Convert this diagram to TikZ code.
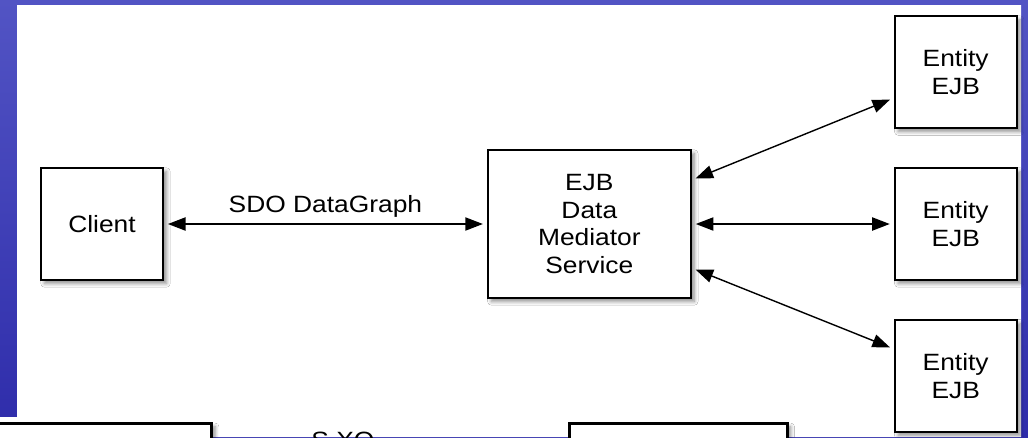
\documentclass[tikz,border=0pt]{standalone}
\usepackage{fontspec}
\setmainfont{Liberation Sans}[FakeStretch=1.12]
\usetikzlibrary{positioning, arrows.meta, shadows.blur}

\definecolor{slidetop}{RGB}{82,84,196}
\definecolor{slidebottom}{RGB}{46,44,170}

\begin{document}
\begin{tikzpicture}[
    x=0.02cm, y=-0.02cm,
    node distance=.76cm,
    font=\fontsize{13.4}{15.9}\selectfont,
    box/.style={draw, line width=1.1pt, fill=white, align=center, minimum width=2.44cm, minimum height=2.24cm, inner sep=2pt,
        blur shadow={shadow xshift=.07cm, shadow yshift=-.07cm, shadow blur steps=6, shadow opacity=45}},
    link/.style={<->, line width=.8pt, shorten <=.08cm, shorten >=.08cm},
    >={Triangle[length=10pt, width=7.5pt]}
]
\useasboundingbox (0,0) rectangle (1028,437);
\clip (0,0) rectangle (1028,437);
\shade[top color=slidetop, bottom color=slidebottom] (0,0) rectangle (1028,437);
\fill[white] (17,5) -- (1021,5) -- (1021,437) -- (0,437) -- (0,417) -- (17,417) -- cycle;

\node[box] (client) at (102,224) {Client};
\node[box, minimum width=4.06cm, minimum height=2.96cm, right=6.46cm of client] (mediator) {EJB\\Data\\Mediator\\Service};
\node[box, right=4.04cm of mediator] (entity2) {Entity\\EJB};
\node[box, above=of entity2] (entity1) {Entity\\EJB};
\node[box, below=of entity2] (entity3) {Entity\\EJB};

\draw[link] (client) -- (mediator) node[midway, above] (graphlabel) {SDO DataGraph};
\draw[link] ([yshift=.88cm]mediator.east) -- ([yshift=-.52cm]entity1.west);
\draw[link] (mediator) -- (entity2);
\draw[link] ([yshift=-.88cm]mediator.east) -- ([yshift=.54cm]entity3.west);

\node[box, line width=1.5pt, minimum width=4.4cm, anchor=north east] (lowleft) at (213,422) {};
\node[box, line width=1.5pt, minimum width=4.36cm, anchor=north west] (lowright) at (568,422) {};
\node (lowlabel) at (343,440) {S XO};
\end{tikzpicture}
\end{document}
